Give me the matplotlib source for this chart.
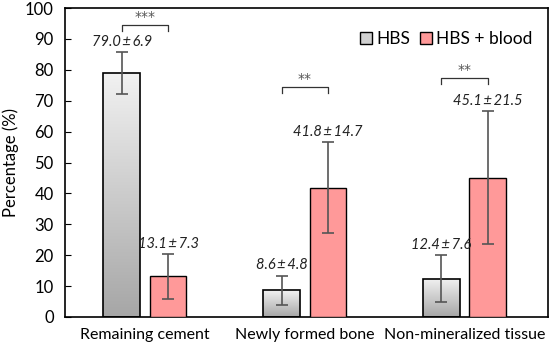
import numpy as np
import matplotlib.pyplot as plt
from matplotlib.patches import Patch
from matplotlib.colors import LinearSegmentedColormap

plt.rcParams['font.family'] = ['Lato', 'DejaVu Sans']

categories = ['Remaining cement', 'Newly formed bone', 'Non-mineralized tissue']
hbs = [79.0, 8.6, 12.4]
hbs_sd = [6.9, 4.8, 7.6]
blood = [13.1, 41.8, 45.1]
blood_sd = [7.3, 14.7, 21.5]
sig = ['***', '**', '**']
sig_y = [94.5, 74.4, 77.3]

x = np.arange(len(categories))
w = 0.23
off = 0.145

fig, ax = plt.subplots(figsize=(5.5, 3.51), dpi=100)
fig.subplots_adjust(left=0.118, right=0.996, top=0.977, bottom=0.097)

gray_cmap = LinearSegmentedColormap.from_list('g', ['#f2f2f2', '#a6a6a6'])
grad = np.linspace(0, 1, 256).reshape(-1, 1)
gray_bars = ax.bar(x - off, hbs, w, facecolor='none', edgecolor='black', linewidth=1.2, zorder=3)
for b in gray_bars:
    im = ax.imshow(grad, cmap=gray_cmap, aspect='auto',
                   extent=[b.get_x(), b.get_x() + b.get_width(), 0, b.get_height()],
                   origin='upper', zorder=2)
    im.set_clip_path(b)
ax.bar(x + off, blood, w, color='#ff9999', edgecolor='black', linewidth=1.0, zorder=3)

ekw = dict(fmt='none', ecolor='#555555', elinewidth=1.2, capsize=4, capthick=1.2, zorder=4)
ax.errorbar(x - off, hbs, yerr=hbs_sd, **ekw)
ax.errorbar(x + off, blood, yerr=blood_sd, **ekw)

for i in range(len(categories)):
    ax.text(x[i] - off, hbs[i] + hbs_sd[i] + 1.0, f'{hbs[i]:.1f}\u2009±\u2009{hbs_sd[i]:.1f}',
            ha='center', va='bottom', style='italic', fontsize=10.5, color='#222222')
    ax.text(x[i] + off, blood[i] + blood_sd[i] + 1.0, f'{blood[i]:.1f}\u2009±\u2009{blood_sd[i]:.1f}',
            ha='center', va='bottom', style='italic', fontsize=10.5, color='#222222')
    y0 = sig_y[i]
    ax.plot([x[i] - off, x[i] - off, x[i] + off, x[i] + off], [y0 - 2.0, y0, y0, y0 - 2.0],
            color='#333333', lw=0.9)
    ax.text(x[i], y0 + 0.5, sig[i], ha='center', va='bottom', fontsize=10,
            family='DejaVu Sans', color='#555555')

ax.set_xlim(-0.5, 2.52)
ax.set_ylim(0, 100)
ax.set_yticks(range(0, 101, 10))
ax.set_xticks(x)
ax.set_xticklabels(categories)
ax.tick_params(axis='y', direction='in', length=4, labelsize=12, pad=8)
ax.tick_params(axis='x', length=0, labelsize=11.5, pad=8)
ax.set_ylabel('Percentage (%)', fontsize=12)
for s in ax.spines.values():
    s.set_linewidth(1.2)

handles = [Patch(facecolor='#d0d0d0', edgecolor='black', label='HBS'),
           Patch(facecolor='#ff9999', edgecolor='black', label='HBS + blood')]
ax.legend(handles=handles, loc='upper right', bbox_to_anchor=(1.0, 0.975), ncol=2, frameon=False,
          fontsize=12.5, handlelength=0.7, handleheight=0.7, handletextpad=0.2, columnspacing=0.6)

fig.savefig('out.png')
